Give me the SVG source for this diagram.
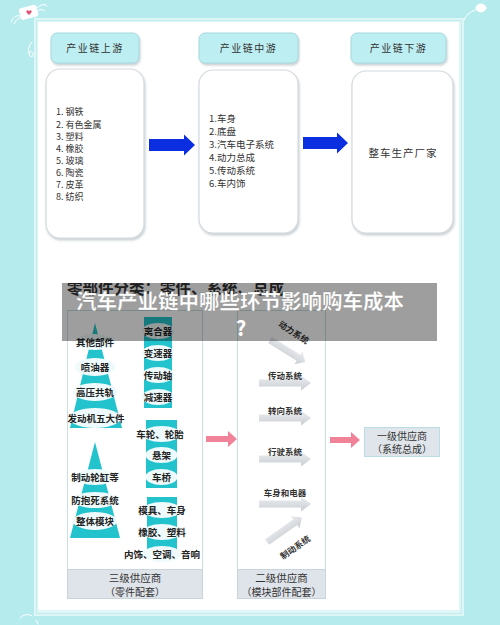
<svg xmlns="http://www.w3.org/2000/svg" width="500" height="625" viewBox="0 0 500 625">
<defs>
<style>
.cn{font-family:"Noto Sans CJK SC","Liberation Sans",sans-serif;}
.hd{font-size:10px;fill:#333;letter-spacing:1.5px;text-anchor:middle;}
.li{font-size:9px;fill:#333;}
.lm{font-size:9.5px;fill:#333;}
.lb{font-size:9.5px;fill:#222;text-anchor:middle;font-weight:bold;}
.ml{font-size:8.5px;fill:#333;text-anchor:middle;font-weight:bold;}
.ft{font-size:10px;fill:#333;text-anchor:middle;}
.hbox{fill:#bdeef1;stroke:#a6d9de;stroke-width:1;}
.cbox{fill:#fff;stroke:#d4dadd;stroke-width:1.2;}
.cy{fill:#22c3cc;}
.el{fill:#eefafb;}
.ga{fill:url(#gg);}
.pk{fill:#f0829a;}
.bl{fill:#0b2ee0;}
</style>
<linearGradient id="gg" x1="0" y1="0" x2="0" y2="1"><stop offset="0" stop-color="#eceef1"/><stop offset="1" stop-color="#c9cdd2"/></linearGradient>
<path id="garrow" d="M0,-3.5 H42 V-7.5 L52,0 L42,7.5 V3.5 H0 Z"/>
<filter id="sh" x="-10%" y="-10%" width="130%" height="130%"><feDropShadow dx="1" dy="2" stdDeviation="1.2" flood-color="#8a9aa0" flood-opacity="0.45"/></filter>
<clipPath id="imgclip"><rect x="62" y="283" width="380" height="320"/></clipPath>
</defs>
<rect x="0" y="0" width="500" height="625" fill="#b6ebee"/>
<g id="decor" fill="none" stroke="#fff" stroke-width="1" stroke-linecap="round">
<rect x="20" y="7" width="17" height="11" rx="2" fill="#fff" transform="rotate(-15 28 12)"/>
<path d="M20,16 q-6,-2 -9,6 M20,18 q-4,1 -6,6 M37,8 q6,-6 10,-2 M37,11 q5,-3 8,0"/>
<path d="M32,42 q-6,6 -2,14 q4,2 3,-3 q-3,-3 -4,0"/>
<path d="M475,10 q-8,2 -12,12"/>
<ellipse cx="481" cy="8" rx="5" ry="4" fill="#fff"/>
<path d="M20,618 q6,-6 12,-2 M36,620 l2,4"/>
</g>
<path d="M29,11 c-1.5,-2 -4,0 -2,2 l2,2 l2,-2 c2,-2 -0.5,-4 -2,-2z" fill="#e0557a"/>
<rect x="34" y="18" width="430" height="598" fill="#dff6f7"/>
<rect x="36.5" y="20.5" width="425" height="593" fill="none" stroke="#c3eef0" stroke-width="1"/>
<rect x="38" y="22" width="421" height="588" fill="#fff"/>
<g id="hdr-up" filter="url(#sh)"><rect class="hbox" x="51" y="33" width="88" height="30" rx="6"/></g>
<text class="cn hd" x="95" y="52">产业链上游</text>
<g id="hdr-mid" filter="url(#sh)"><rect class="hbox" x="199" y="33" width="99" height="30" rx="6"/></g>
<text class="cn hd" x="248.5" y="52">产业链中游</text>
<g id="hdr-down" filter="url(#sh)"><rect class="hbox" x="351" y="33" width="95" height="30" rx="6"/></g>
<text class="cn hd" x="398.5" y="52">产业链下游</text>
<g id="box-up">
<rect class="cbox" x="46" y="69" width="98" height="169" rx="14" filter="url(#sh)"/>
<text class="cn li" x="56" y="115">1. 钢铁</text>
<text class="cn li" x="56" y="128">2. 有色金属</text>
<text class="cn li" x="56" y="140">3. 塑料</text>
<text class="cn li" x="56" y="152">4. 橡胶</text>
<text class="cn li" x="56" y="164">5. 玻璃</text>
<text class="cn li" x="56" y="176">6. 陶瓷</text>
<text class="cn li" x="56" y="188">7. 皮革</text>
<text class="cn li" x="56" y="200">8. 纺织</text>
</g>
<g id="box-mid">
<rect class="cbox" x="199" y="70" width="99" height="163" rx="14" filter="url(#sh)"/>
<text class="cn lm" x="209" y="122">1.车身</text>
<text class="cn lm" x="209" y="135">2.底盘</text>
<text class="cn lm" x="209" y="148">3.汽车电子系统</text>
<text class="cn lm" x="209" y="161">4.动力总成</text>
<text class="cn lm" x="209" y="174">5.传动系统</text>
<text class="cn lm" x="209" y="187">6.车内饰</text>
</g>
<g id="box-down">
<rect class="cbox" x="352" y="71" width="101" height="162" rx="14" filter="url(#sh)"/>
<text class="cn lm" x="403" y="157" text-anchor="middle" style="font-size:10.5px;letter-spacing:1px">整车生产厂家</text>
</g>
<g id="top-connectors">
<path class="bl" d="M149,139 H184 V134.5 L195,145 L184,155.5 V151 H149 Z"/>
<path class="bl" d="M303,137 H337 V132.5 L348,143 L337,153.5 V149 H303 Z"/>
</g>
<g clip-path="url(#imgclip)">
<text class="cn" x="67" y="294" font-size="15.5" fill="#333" font-weight="bold">零部件分类：零件、系统、总成</text>
<g id="tier3">
<rect x="67.5" y="310.5" width="135" height="288" fill="#fff" stroke="#c9dfe3"/>
<rect x="67.5" y="569.5" width="135" height="29" fill="#dfe3ea" stroke="#c9d3dc"/>
<text class="cn ft" x="135" y="581.5" style="font-size:10.5px">三级供应商</text>
<text class="cn ft" x="135" y="595.5">（零件配套）</text>
<polygon class="cy" points="95,323 122,428 70,428"/>
<polygon class="cy" points="95,442 120,538 70,538"/>
<rect class="cy" x="144" y="317" width="28" height="91"/>
<rect class="cy" x="146" y="420" width="31" height="68"/>
<rect class="cy" x="147" y="497" width="30" height="60"/>
<g class="el">
<ellipse cx="95" cy="342" rx="20" ry="8"/><ellipse cx="95" cy="367" rx="20" ry="9"/><ellipse cx="95" cy="392" rx="22" ry="9"/><ellipse cx="95" cy="418" rx="26" ry="10"/>
<ellipse cx="95" cy="477" rx="20" ry="8"/><ellipse cx="95" cy="500" rx="22" ry="8"/><ellipse cx="95" cy="521" rx="22" ry="9"/>
<ellipse cx="158" cy="331" rx="16" ry="8"/><ellipse cx="158" cy="353" rx="16" ry="8"/><ellipse cx="158" cy="375" rx="16" ry="8"/><ellipse cx="158" cy="397" rx="16" ry="8"/>
<ellipse cx="161.5" cy="434" rx="19" ry="8"/><ellipse cx="161.5" cy="455" rx="16" ry="8"/><ellipse cx="161.5" cy="477" rx="16" ry="8"/>
<ellipse cx="162" cy="510" rx="19" ry="8"/><ellipse cx="162" cy="532" rx="19" ry="8"/><ellipse cx="162" cy="554" rx="19" ry="8"/>
</g>
<text class="cn lb" x="95" y="345.5">其他部件</text>
<text class="cn lb" x="95" y="370.5">喷油器</text>
<text class="cn lb" x="95" y="395.5">高压共轨</text>
<text class="cn lb" x="96" y="421.5">发动机五大件</text>
<text class="cn lb" x="95" y="480.5">制动轮缸等</text>
<text class="cn lb" x="95" y="503.5">防抱死系统</text>
<text class="cn lb" x="95" y="524.5">整体模块</text>
<text class="cn lb" x="158" y="334.5">离合器</text>
<text class="cn lb" x="158" y="356.5">变速器</text>
<text class="cn lb" x="158" y="378.5">传动轴</text>
<text class="cn lb" x="158" y="400.5">减速器</text>
<text class="cn lb" x="160" y="437.5">车轮、轮胎</text>
<text class="cn lb" x="161.5" y="458.5">悬架</text>
<text class="cn lb" x="161.5" y="480.5">车桥</text>
<text class="cn lb" x="162" y="513.5">模具、车身</text>
<text class="cn lb" x="162" y="535.5">橡胶、塑料</text>
<text class="cn lb" x="162" y="557.5">内饰、空调、音响</text>
</g>
<g id="tier2">
<rect x="237.5" y="310.5" width="88" height="288" fill="#fff" stroke="#c9dfe3"/>
<rect x="237.5" y="569.5" width="88" height="29" fill="#dfe3ea" stroke="#c9d3dc"/>
<text class="cn ft" x="281.5" y="581.5" style="font-size:10.5px">二级供应商</text>
<text class="cn ft" x="281.5" y="595.5">（模块部件配套）</text>
<use href="#garrow" class="ga" transform="translate(270,340) rotate(32) scale(0.8,1)"/>
<use href="#garrow" class="ga" transform="translate(259,383)"/>
<use href="#garrow" class="ga" transform="translate(259,418)"/>
<use href="#garrow" class="ga" transform="translate(259,459)"/>
<use href="#garrow" class="ga" transform="translate(259,504)"/>
<use href="#garrow" class="ga" transform="translate(267,542) rotate(-35) scale(0.82,1)"/>
<text class="cn ml" transform="translate(292,335) rotate(33)">动力系统</text>
<text class="cn ml" x="285" y="379">传动系统</text>
<text class="cn ml" x="285" y="414">转向系统</text>
<text class="cn ml" x="285" y="455">行驶系统</text>
<text class="cn ml" x="285" y="496">车身和电器</text>
<text class="cn ml" transform="translate(297,550) rotate(-35)">制动系统</text>
</g>
<g id="tier1">
<rect x="364.5" y="427.5" width="75" height="29" fill="#dfe5ea" stroke="#b8dde2"/>
<text class="cn ft" x="402" y="439.5">一级供应商</text>
<text class="cn ft" x="402" y="453">（系统总成）</text>
</g>
<g id="bottom-connectors">
<path class="pk" d="M206,436 H228 V431 L237,439 L228,447 V442 H206 Z"/>
<path class="pk" d="M330,437 H351 V432 L360,440 L351,448 V443 H330 Z"/>
</g>
<rect x="62" y="283" width="375" height="58" fill="#000" fill-opacity="0.38"/>
</g>
<g id="title">
<text class="cn" x="240" y="309" font-size="20.5" font-weight="bold" fill="#fff" text-anchor="middle" stroke="#555" stroke-width="0.4" stroke-opacity="0.4">汽车产业链中哪些环节影响购车成本</text>
<text class="cn" x="241" y="336" font-size="20.5" font-weight="bold" fill="#fff" text-anchor="middle">?</text>
</g>
</svg>
